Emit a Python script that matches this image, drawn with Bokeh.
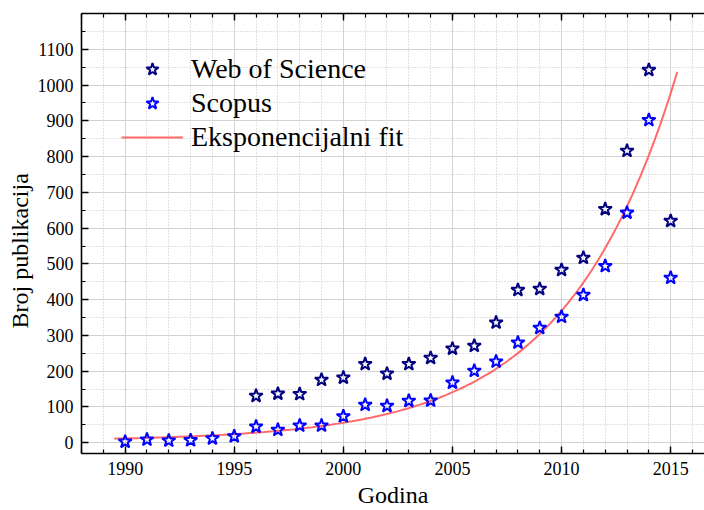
import numpy as np
from bokeh.plotting import figure
from bokeh.models import (SingleIntervalTicker, FixedTicker, LinearAxis, Legend,
                          LegendItem, Title, Range1d)
from bokeh.embed import file_html
from bokeh.resources import INLINE

# ---- data ----
years_wos = [1996, 1997, 1998, 1999, 2000, 2001, 2002, 2003, 2004, 2005,
             2006, 2007, 2008, 2009, 2010, 2011, 2012, 2013, 2014, 2015]
wos = [131, 137, 136, 176, 182, 220, 193, 220, 237, 263,
       271, 336, 427, 430, 483, 517, 653, 816, 1042, 620]

years_scopus = [1990, 1991, 1992, 1993, 1994, 1995, 1996, 1997, 1998, 1999,
                2000, 2001, 2002, 2003, 2004, 2005, 2006, 2007, 2008, 2009,
                2010, 2011, 2012, 2013, 2014, 2015]
scopus = [3, 9, 6, 7, 12, 18, 45, 36, 48, 48,
          74, 106, 103, 117, 118, 168, 201, 227, 280, 321,
          352, 413, 494, 643, 902, 461]

# exponential fit parameters (y = y0 + A*exp(k*(x - x_ref)))
fit_y0 = 5.0
fit_A = 364.0
fit_k = 0.1965
fit_xref = 2010.0
fit_start, fit_end = 1989.5, 2015.3

y_ticks = [0, 100, 200, 300, 400, 500, 600, 700, 800, 900, 1000, 1100]
y_minor = [-50, 50, 150, 250, 350, 450, 550, 650, 750, 850, 950, 1050, 1150]

labels = ["Web of Science", "Scopus", "Eksponencijalni fit"]
x_label = "Godina"
y_label = "Broj publikacija"

FONT = "Liberation Serif"

fit_x = np.linspace(fit_start, fit_end, 200)
fit_yv = fit_y0 + fit_A * np.exp(fit_k * (fit_x - fit_xref))

p = figure(width=704, height=510, output_backend="svg", toolbar_location=None,
           x_range=Range1d(1988, 2016.55), y_range=Range1d(-30, 1200),
           min_border_left=81, min_border_right=0, min_border_top=13,
           min_border_bottom=57)
p.outline_line_color = None
p.background_fill_color = "white"

xt = SingleIntervalTicker(interval=5, num_minor_ticks=5)
yt = FixedTicker(ticks=y_ticks, minor_ticks=y_minor)
bottom_axis = p.below[0]
left_axis = p.left[0]
bottom_axis.ticker = xt
left_axis.ticker = yt
p.xgrid.ticker = xt
p.ygrid.ticker = yt

for g in (p.xgrid, p.ygrid):
    g.grid_line_color = "#d2d2d2"
    g.grid_line_width = 1
    g.minor_grid_line_color = "#c4c4c4"
    g.minor_grid_line_dash = "1 2"
    g.minor_grid_line_width = 1

top_axis = LinearAxis(ticker=xt)
top_axis.major_label_text_font_size = "0px"
top_axis.major_label_text_alpha = 0
top_axis.major_label_standoff = 0
p.add_layout(top_axis, "above")

for ax in (bottom_axis, left_axis, top_axis):
    ax.axis_line_color = "black"
    ax.axis_line_width = 1.6
    ax.major_tick_line_color = "black"
    ax.minor_tick_line_color = "black"
    ax.major_tick_line_width = 1.4
    ax.minor_tick_line_width = 1.2
    ax.major_tick_in = 7
    ax.major_tick_out = 0
    ax.minor_tick_in = 4
    ax.minor_tick_out = 0
    ax.major_label_text_font = FONT
    ax.major_label_text_color = "black"

bottom_axis.major_label_text_font_size = "18px"
bottom_axis.major_label_standoff = 8
left_axis.major_label_text_font_size = "18px"
left_axis.major_label_standoff = 8

r_fit = p.line(fit_x, fit_yv, line_color="#ff6a6a", line_width=2)
r_wos = p.scatter(years_wos, wos, marker="star", size=14, line_color="#000080",
                  line_width=2, fill_alpha=0)
r_sco = p.scatter(years_scopus, scopus, marker="star", size=14, line_color="#0000ff",
                  line_width=2, fill_alpha=0)

legend = Legend(items=[LegendItem(label=labels[0], renderers=[r_wos]),
                       LegendItem(label=labels[1], renderers=[r_sco]),
                       LegendItem(label=labels[2], renderers=[r_fit])],
                location="top_left")
legend.margin = 40
legend.padding = 1
legend.spacing = 2
legend.glyph_width = 62
legend.glyph_height = 32
legend.label_height = 32
legend.label_standoff = 8
legend.label_text_font = FONT
legend.label_text_font_size = "28px"
legend.label_text_color = "black"
legend.border_line_color = None
legend.background_fill_alpha = 0
p.add_layout(legend)

p.add_layout(Title(text=y_label, align="left", offset=125, standoff=4,
                   text_font=FONT, text_font_size="24px",
                   text_font_style="normal", text_color="black"), "left")
p.add_layout(Title(text=x_label, align="center", offset=5, standoff=4,
                   text_font=FONT, text_font_size="24px",
                   text_font_style="normal", text_color="black"), "below")

open("out.html", "w").write(file_html(p, INLINE))
